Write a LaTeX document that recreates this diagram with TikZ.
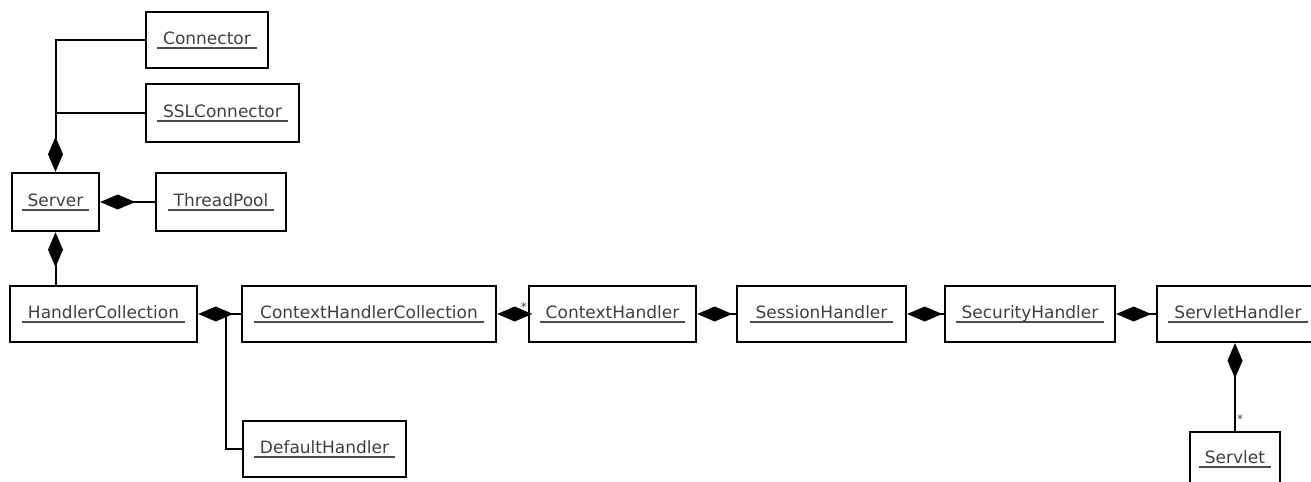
\documentclass[tikz,border=0pt]{standalone}
\usepackage{fontspec}
\setmainfont{DejaVu Sans}
\usetikzlibrary{arrows.meta}

% underlined class name, the rule running a little past the text
\newcommand\clsname[1]{%
  \setbox0\hbox{\hspace{6bp}#1\hspace{6bp}}%
  \rlap{\color{black!70}\rule[-4.5bp]{\wd0}{1.4bp}}\box0}

\tikzset{
  classbox/.style={draw=black, line width=2.4bp, inner sep=0pt,
    text=black!75, font=\fontsize{17bp}{20bp}\selectfont},
  link/.style={draw=black, line width=2bp},
  comp/.style={link, {Diamond[length=35bp,width=15bp]}-},
  mult/.style={inner sep=0pt, text=black!75, font=\fontsize{12bp}{12bp}\selectfont}
}

% \umlclass{name}{left}{right}{top}{bottom}{label}
\newcommand\umlclass[6]{%
  \node[classbox, minimum width={(#3-#2)*1bp}, minimum height={(#5-#4)*1bp}]
    (#1) at ({(#2+#3)/2},{(#4+#5)/2}) {\clsname{#6}};}

\begin{document}
\begin{tikzpicture}[x=1bp, y=-1bp]
  \fill[white] (0,0) rectangle (1311,482);
  \useasboundingbox (0,0) rectangle (1311,482);

  \umlclass{connector}{146}{268}{12}{68}{Connector}
  \umlclass{ssl}{146}{299}{84}{142}{SSLConnector}
  \umlclass{server}{12}{99}{173}{231}{Server}
  \umlclass{pool}{156}{286}{173}{231}{ThreadPool}
  \umlclass{hc}{10}{197}{286}{342}{HandlerCollection}
  \umlclass{chc}{242}{496}{286}{342}{ContextHandlerCollection}
  \umlclass{dh}{243}{406}{421}{477}{DefaultHandler}
  \umlclass{ch}{529}{696}{286}{342}{ContextHandler}
  \umlclass{sessh}{737}{906}{286}{342}{SessionHandler}
  \umlclass{sech}{945}{1115}{286}{342}{SecurityHandler}
  \umlclass{svh}{1157}{1319}{286}{342}{ServletHandler}
  \umlclass{servlet}{1190}{1280}{432}{486}{Servlet}

  % Server owns its connectors
  \draw[comp] (server.north) |- (connector.west);
  \draw[link] (server.north |- ssl.west) -- (ssl.west);
  \draw[comp] (server.east) -- (pool.west);
  \draw[comp] (server.south) -- (server.south |- hc.north);

  % handler chain
  \draw[comp] (hc.east) -- (chc.west);
  \draw[link] (dh.west) -| ([xshift=28bp]hc.east);
  \draw[comp] (chc.east) -- (ch.west)
    node[mult, at end, anchor=south east, xshift=0bp, yshift=2bp] {*};
  \draw[comp] (ch.east) -- (sessh.west);
  \draw[comp] (sessh.east) -- (sech.west);
  \draw[comp] (sech.east) -- (svh.west);
  \draw[comp] (svh.south -| servlet.north) -- (servlet.north)
    node[mult, at end, anchor=south west, xshift=1bp, yshift=6bp] {*};
\end{tikzpicture}
\end{document}
